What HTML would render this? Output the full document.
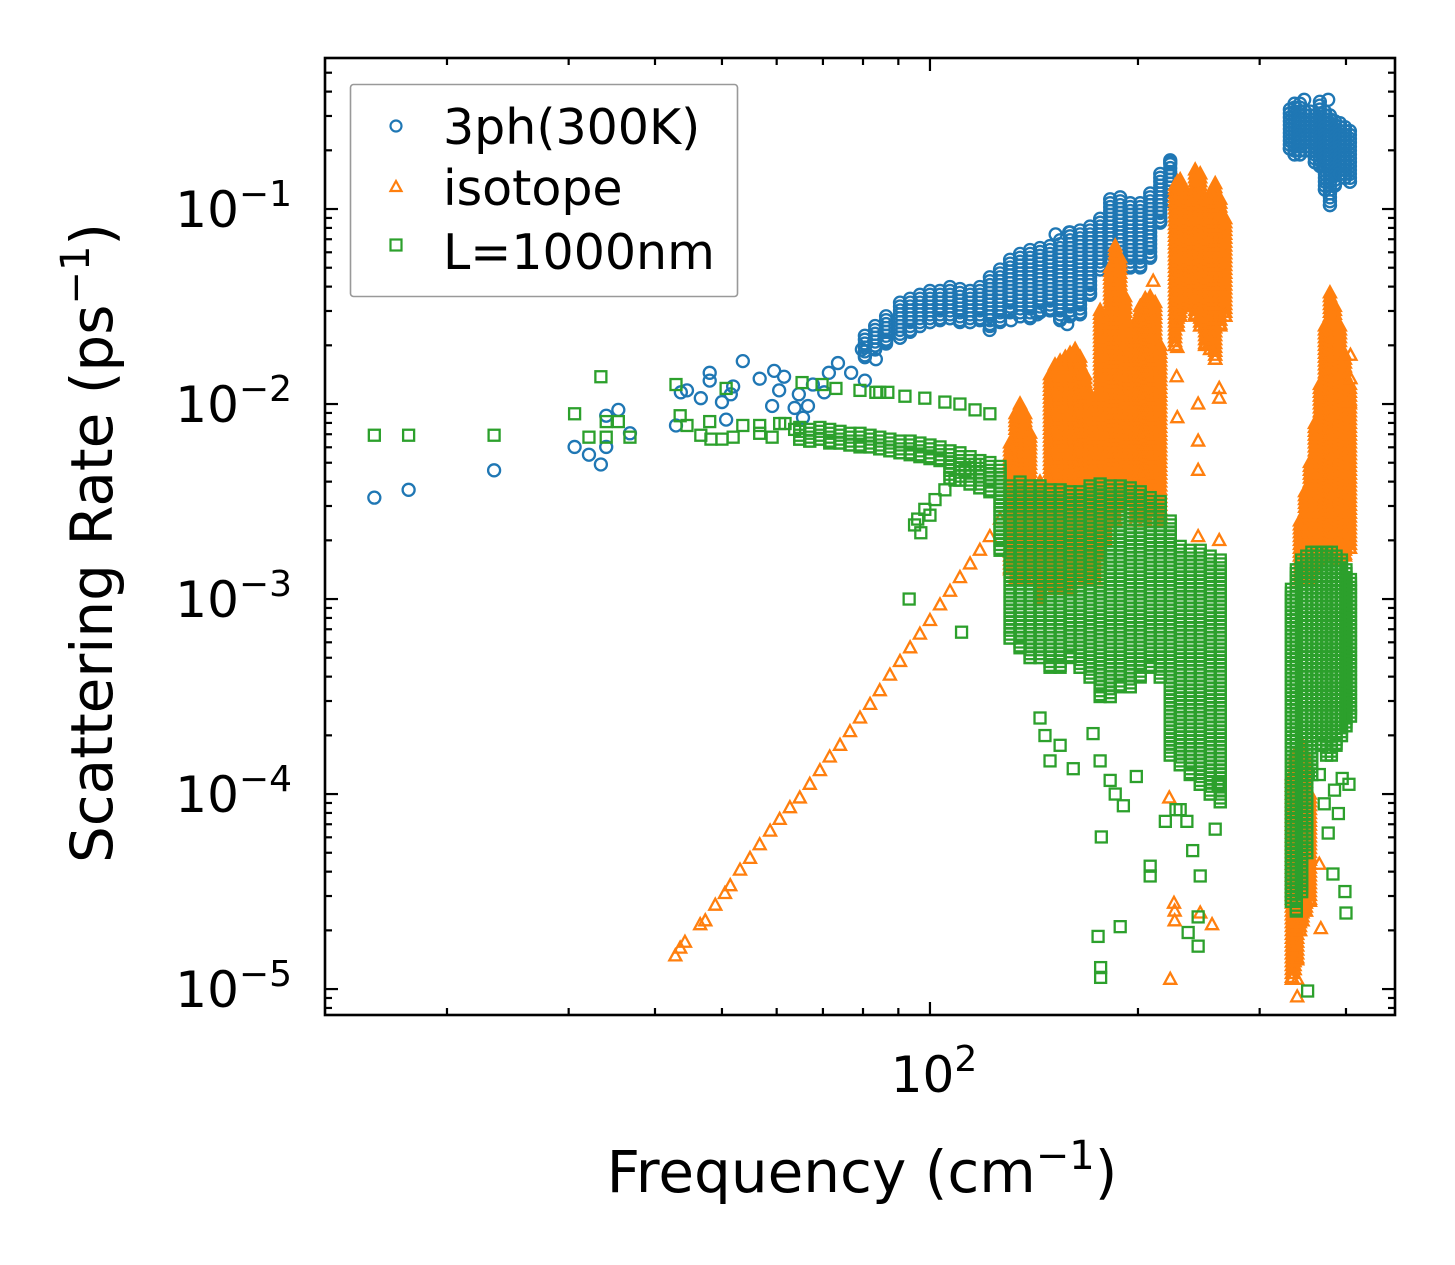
<!DOCTYPE html>
<html><head><meta charset="utf-8"><style>
html,body{margin:0;padding:0;background:#fff;}
svg{display:block;font-family:"DejaVu Sans","Liberation Sans",sans-serif;}
</style></head><body>
<svg id="chart" width="1455" height="1265" viewBox="0 0 1455 1265" xmlns="http://www.w3.org/2000/svg">
<rect x="0" y="0" width="1455" height="1265" fill="#fff"/>
<g id="marks"></g>
<g id="axes"></g>
<rect x="325" y="58" width="1070" height="957" fill="none" stroke="#000" stroke-width="2.6"/>
<g>
<rect x="350.5" y="84.5" width="387" height="212" rx="3" fill="#fff" fill-opacity="0.85" stroke="#999" stroke-width="1.6"/>
<g>
<circle cx="396" cy="126" r="5.5" fill="none" stroke="#1f77b4" stroke-width="2.2"/>
<text x="443" y="144" font-size="49">3ph(300K)</text></g>
<g>
<polygon points="396,181 401.5,191 390.5,191" fill="none" stroke="#ff7f0e" stroke-width="2.2"/>
<text x="443" y="205" font-size="49">isotope</text></g>
<g>
<rect x="390.5" y="239.5" width="11" height="11" fill="none" stroke="#2ca02c" stroke-width="2.2"/>
<text x="443" y="269" font-size="49">L=1000nm</text></g>
</g>
<text x="862" y="1192" font-size="58" text-anchor="middle">Frequency (cm<tspan font-size="40" dy="-23">−1</tspan><tspan dy="23">)</tspan></text>
<text transform="translate(112,543) rotate(-90)" font-size="58" text-anchor="middle">Scattering Rate (ps<tspan font-size="40" dy="-23">−1</tspan><tspan dy="23">)</tspan></text>
</svg>
<script>
// Axis domains (cm^-1, ps^-1 as log10)
const xDomainLog = [1.1245, 2.673];
const yDomainLog = [-5.133, -0.2256];
const xMajorTicks = [100];
const xMinorTicks = [20, 30, 40, 50, 60, 70, 80, 90, 200, 300, 400];
const yMajorExps = [-1, -2, -3, -4, -5];
const xTickLabels = ["10", "2"];

// 3ph(300K): explicit points [freq cm^-1, log10 rate]
const threePhPoints = [[15.7,-2.48],[17.6,-2.44],[23.4,-2.34],[30.6,-2.22],[32.1,-2.26],[33.4,-2.31],[34.0,-2.22],[34.0,-2.06],[35.4,-2.03],[36.8,-2.15],[42.9,-2.11],[43.6,-1.94],[44.5,-1.93],[46.6,-1.97],[48.0,-1.84],[48.0,-1.88],[50.0,-1.99],[50.7,-2.08],[51.5,-1.95],[51.9,-1.91],[53.6,-1.78],[56.7,-1.87],[59.5,-1.83],[61.5,-1.86],[60.5,-1.93],[59.1,-2.01],[63.7,-2.02],[65.5,-2.07],[66.6,-2.01],[64.6,-1.95],[67.7,-1.90],[70.3,-1.94],[71.4,-1.84],[73.6,-1.79],[76.9,-1.84],[79.7,-1.72],[80.5,-1.88],[83.5,-1.77],[86.4,-1.69],[152,-1.13],[159,-1.12],[122,-1.62],[131,-1.57],[143,-1.54],[158,-1.59],[222.7,-0.76],[348,-0.44],[377,-0.44]];
// 3ph dense bands: [freq, log10 rate high, log10 rate low]
const threePhBands = [[80.5,-1.65,-1.76],[83.3,-1.60,-1.72],[86.4,-1.55,-1.68],[90.5,-1.48,-1.66],[93.6,-1.46,-1.63],[96.7,-1.44,-1.60],[100,-1.42,-1.58],[103.4,-1.42,-1.57],[106.9,-1.40,-1.56],[110.5,-1.41,-1.58],[114.3,-1.42,-1.58],[118.1,-1.40,-1.57],[122.1,-1.35,-1.60],[126.3,-1.31,-1.58],[130.6,-1.26,-1.53],[135,-1.23,-1.55],[139.6,-1.21,-1.56],[144.3,-1.20,-1.53],[149.2,-1.19,-1.52],[154.3,-1.16,-1.57],[159.5,-1.12,-1.55],[164.9,-1.11,-1.54],[170.5,-1.09,-1.44],[176.3,-1.05,-1.31],[182.3,-0.95,-1.27],[188.5,-0.94,-1.31],[194.9,-0.97,-1.30],[201.5,-0.97,-1.30],[208.3,-0.92,-1.25],[215.4,-0.82,-1.07],[222.7,-0.75,-0.96],[230.2,-1.18,-1.30],[246.1,-1.20,-1.32],[263.1,-1.18,-1.28],
[331.8,-0.49,-0.69],[337,-0.46,-0.72],[343.1,-0.46,-0.72],[349,-0.50,-0.70],[354.7,-0.50,-0.70],[360.6,-0.52,-0.76],[366.7,-0.45,-0.78],[372.9,-0.50,-0.90],[379.2,-0.52,-0.98],[385.5,-0.55,-0.88],[392,-0.56,-0.82],[398.6,-0.58,-0.84],[405.3,-0.60,-0.86]];

// isotope
const isotopePoints = [[42.8,-4.83],[43.5,-4.79],[44.2,-4.76],[46.5,-4.67],[47.3,-4.65],[48.9,-4.57],[50.5,-4.51],[51.4,-4.47],[53.1,-4.39],[54.9,-4.33],[56.7,-4.26],[58.7,-4.19],[60.6,-4.13],[62.7,-4.07],[64.8,-4.02],[67.0,-3.95],[69.3,-3.88],[71.6,-3.81],[74.1,-3.75],[76.6,-3.68],[79.2,-3.61],[81.9,-3.54],[84.6,-3.47],[87.5,-3.39],[90.5,-3.32],[93.6,-3.25],[96.7,-3.18],[100,-3.11],[103.4,-3.03],[106.9,-2.96],[110.5,-2.89],[114.3,-2.82],[118.1,-2.75],[122.1,-2.68],[126.3,-2.59],[130.6,-2.52],[135,-2.44],
[210.4,-1.37],[228,-1.58],[228,-1.71],[227.5,-1.86],[228,-2.07],[244.4,-2.00],[244.4,-2.19],[244.4,-2.34],[262.2,-1.92],[262.2,-1.97],[244.4,-2.68],[262.2,-2.70],[222.7,-4.95],[225.5,-4.56],[246.1,-4.61],[256,-4.67],[222,-4.02],[226,-4.60],[226,-4.65],
[406,-1.75],[406,-1.87],[405,-1.99],[366,-4.36],[367.8,-4.69],[340,-4.95],[340,-5.04]];
const isotopeBands = [[130.6,-2.20,-2.85],[133,-2.05,-2.90],[135,-2.00,-2.90],[137.3,-2.05,-2.90],[139.6,-2.15,-2.90],[144.3,-2.40,-3.00],[149.2,-1.85,-2.95],[151.7,-1.80,-2.95],[154.3,-1.78,-2.95],[157,-1.76,-2.95],[159.5,-1.74,-2.95],[162.2,-1.72,-2.90],[164.9,-1.76,-2.90],[167.7,-1.85,-2.90],[170.5,-1.95,-2.90],[173.4,-2.10,-2.90],[176.3,-1.52,-2.80],[179.3,-1.60,-2.70],[182.3,-1.30,-2.60],[185.4,-1.19,-2.60],[188.5,-1.25,-2.55],[191.6,-1.45,-2.50],[194.9,-1.70,-2.50],[198.2,-1.58,-2.60],[201.5,-1.50,-2.60],[204.9,-1.46,-2.60],[208.3,-1.45,-2.55],[211.8,-1.48,-2.55],[215.4,-1.70,-2.60],[226.3,-0.88,-1.70],[228.2,-0.86,-1.60],[230.2,-0.85,-1.55],[234,-0.90,-1.50],[238,-0.95,-1.50],[242,-0.80,-1.55],[246.1,-0.82,-1.60],[250.2,-0.95,-1.70],[254.4,-0.92,-1.72],[258.7,-0.87,-1.77],[263.1,-0.95,-1.60],[267.5,-1.05,-1.55],
[343.1,-2.60,-2.90],[349,-2.45,-2.90],[354.7,-2.30,-2.90],[360.6,-2.10,-2.85],[366.7,-1.90,-2.80],[372.9,-1.60,-2.78],[379.2,-1.43,-2.76],[385.5,-1.50,-2.78],[392,-1.60,-2.80],[398.6,-1.75,-2.78],[405.3,-1.90,-2.74],
[334,-3.90,-4.95],[337,-3.80,-4.90],[340,-3.80,-4.85],[343.1,-3.80,-4.70],[346,-3.75,-4.65],[350,-3.80,-4.60],[354.7,-4.00,-4.55]];

// L=1000nm boundary
const boundaryPoints = [[15.7,-2.16],[17.6,-2.16],[23.4,-2.16],[30.6,-2.05],[33.4,-1.86],[32.1,-2.17],[34.0,-2.09],[35.4,-2.09],[34.0,-2.17],[36.8,-2.17],[42.9,-1.90],[43.5,-2.06],[44.5,-2.11],[46.6,-2.16],[48.0,-2.09],[48.2,-2.18],[50.0,-2.18],[51.9,-2.17],[50.7,-1.92],[53.6,-2.11],[56.7,-2.11],[56.7,-2.15],[59.1,-2.17],[60.6,-2.10],[61.7,-2.10],[63.7,-2.13],[65.3,-1.89],[69.8,-1.90],[73.1,-1.92],[83.5,-1.94],[86.9,-1.94],
[79.2,-1.93],[84.6,-1.94],[92,-1.96],[98.3,-1.97],[105.1,-1.99],[110.5,-2.00],[116.2,-2.03],[122.1,-2.05],
[93.3,-3.00],[111.1,-3.17],[97,-2.66],[95,-2.62],[98.3,-2.54],[101.7,-2.49],[105.1,-2.44],[108.7,-2.39],[112.4,-2.34],[116.2,-2.31],[96,-2.59],[100,-2.57],
[144.3,-3.61],[146.7,-3.70],[154.3,-3.75],[161.2,-3.87],[149.2,-3.83],[172.2,-3.69],[176.3,-3.83],[182.3,-3.93],[190.5,-4.06],[185.4,-4.00],[177,-4.22],[175.1,-4.73],[188.5,-4.68],[176.6,-4.89],[176.6,-4.94],[219.1,-4.14],[230.2,-4.08],[227,-4.08],[235.4,-4.14],[240,-4.29],[246.1,-4.42],[208.3,-4.37],[208.3,-4.42],[244.4,-4.63],[244.4,-4.78],[236.4,-4.71],[258.7,-4.18],[261.3,-3.95],[198.9,-3.91],
[398.6,-4.50],[400,-4.61],[383,-4.41],[352,-5.01],[372,-4.05],[385,-3.98],[390,-4.10],[377,-4.20],[395,-3.92],[404,-3.95],[366,-3.90]];
const boundaryBands = [[64.8,-2.12,-2.18],[67,-2.13,-2.19],[69.3,-2.12,-2.18],[71.6,-2.13,-2.20],[74.1,-2.14,-2.20],[76.6,-2.15,-2.21],[79.2,-2.15,-2.22],[81.9,-2.16,-2.22],[84.6,-2.17,-2.23],[87.5,-2.18,-2.24],[90.5,-2.19,-2.25],[93.6,-2.19,-2.26],[96.7,-2.20,-2.27],[100,-2.21,-2.28],[103.4,-2.22,-2.29],[106.9,-2.24,-2.38],[110.5,-2.25,-2.39],[114.3,-2.27,-2.41],[118.1,-2.29,-2.43],[122.1,-2.30,-2.45],[126.3,-2.32,-2.75],
[130.6,-2.42,-3.20],[135,-2.40,-3.25],[139.6,-2.42,-3.30],[144.3,-2.42,-3.30],[149.2,-2.44,-3.35],[154.3,-2.44,-3.35],[159.5,-2.45,-3.30],[164.9,-2.45,-3.35],[170.5,-2.42,-3.40],[176.3,-2.41,-3.50],[182.3,-2.42,-3.50],[188.5,-2.42,-3.45],[194.9,-2.43,-3.45],[201.5,-2.45,-3.40],[208.3,-2.48,-3.35],[215.4,-2.50,-3.40],[222.7,-2.60,-3.80],[230.2,-2.73,-3.85],[238,-2.75,-3.90],[246.1,-2.75,-3.95],[254.4,-2.78,-4.00],[263.1,-2.80,-4.04],
[333.5,-2.95,-4.55],[339,-2.85,-4.60],[345,-2.80,-4.50],[351,-2.78,-4.30],[357,-2.76,-3.90],[363,-2.76,-3.70],[369,-2.76,-3.75],[375,-2.76,-3.80],[381,-2.76,-3.80],[387,-2.78,-3.75],[394,-2.80,-3.70],[400,-2.85,-3.65],[406,-2.90,-3.60]];

const NS = "http://www.w3.org/2000/svg";
const PX0 = 325, PX1 = 1395, PY0 = 58, PY1 = 1015;
function xScale(f){ return PX0 + (Math.log10(f) - xDomainLog[0]) / (xDomainLog[1] - xDomainLog[0]) * (PX1 - PX0); }
function yScale(lr){ return PY1 - (lr - yDomainLog[0]) / (yDomainLog[1] - yDomainLog[0]) * (PY1 - PY0); }
const marks = document.getElementById('marks');
const axes = document.getElementById('axes');
const BAND_STEP = 0.02;

function marker(kind, f, lr, color, name){
  const x = xScale(f), y = yScale(lr);
  let el;
  if (kind === 'circle'){
    el = document.createElementNS(NS, 'circle');
    el.setAttribute('cx', x); el.setAttribute('cy', y); el.setAttribute('r', 6);
  } else if (kind === 'tri'){
    el = document.createElementNS(NS, 'polygon');
    el.setAttribute('points', x + ',' + (y-6.5) + ' ' + (x+6) + ',' + (y+4.5) + ' ' + (x-6) + ',' + (y+4.5));
  } else {
    el = document.createElementNS(NS, 'rect');
    el.setAttribute('x', x-5.5); el.setAttribute('y', y-5.5); el.setAttribute('width', 11); el.setAttribute('height', 11);
  }
  el.setAttribute('fill', 'none');
  el.setAttribute('stroke', color);
  el.setAttribute('stroke-width', 2.3);
  
  
  return el;
}
function drawSeries(points, bands, kind, color, name){
  const g = document.createElementNS(NS, 'g');
  
  
  bands.forEach(b => {
    for (let lr = b[1]; lr >= b[2] - 1e-9; lr -= BAND_STEP){
      g.appendChild(marker(kind, b[0], lr, color, name + '-point'));
    }
    g.appendChild(marker(kind, b[0], b[2], color, name + '-point'));
  });
  points.forEach(p => g.appendChild(marker(kind, p[0], p[1], color, name + '-point')));
  marks.appendChild(g);
}
drawSeries(threePhPoints, threePhBands, 'circle', '#1f77b4', 'three-phonon');
drawSeries(isotopePoints, isotopeBands, 'tri', '#ff7f0e', 'isotope');
drawSeries(boundaryPoints, boundaryBands, 'square', '#2ca02c', 'boundary');

function line(x1,y1,x2,y2,name){
  const l = document.createElementNS(NS,'line');
  l.setAttribute('x1',x1); l.setAttribute('y1',y1); l.setAttribute('x2',x2); l.setAttribute('y2',y2);
  l.setAttribute('stroke','#000'); l.setAttribute('stroke-width',2.2);
  
  
  axes.appendChild(l);
}
xMajorTicks.forEach(f => {
  const x = xScale(f);
  line(x, PY1, x, PY1-13, 'x-major-tick');
  line(x, PY0, x, PY0+13, 'x-major-tick-top');
  const t = document.createElementNS(NS,'text');
  t.setAttribute('x', x+4); t.setAttribute('y', 1092); t.setAttribute('font-size', 50); t.setAttribute('text-anchor','middle');
  
  
  t.innerHTML = xTickLabels[0] + '<tspan font-size="36" dy="-21">' + xTickLabels[1] + '</tspan>';
  axes.appendChild(t);
});
xMinorTicks.forEach(f => {
  const x = xScale(f);
  line(x, PY1, x, PY1-7, 'x-minor-tick');
  line(x, PY0, x, PY0+7, 'x-minor-tick-top');
});
yMajorExps.forEach(e => {
  const y = yScale(e);
  line(PX0, y, PX0+13, y, 'y-major-tick');
  line(PX1, y, PX1-13, y, 'y-major-tick-right');
  const t = document.createElementNS(NS,'text');
  t.setAttribute('x', 292); t.setAttribute('y', y+18); t.setAttribute('font-size', 50); t.setAttribute('text-anchor','end');
  
  
  t.innerHTML = '10<tspan font-size="36" dy="-21">−' + (-e) + '</tspan>';
  axes.appendChild(t);
  for (let m = 2; m <= 9; m++){
    const lr = e + Math.log10(m);
    if (lr > yDomainLog[1]) continue;
    const ym = yScale(lr);
    line(PX0, ym, PX0+7, ym, 'y-minor-tick');
    line(PX1, ym, PX1-7, ym, 'y-minor-tick-right');
  }
});
for (let m = 8; m <= 9; m++){
  const ym = yScale(-6 + Math.log10(m));
  if (ym < PY1) { line(PX0, ym, PX0+7, ym, 'y-minor-tick'); line(PX1, ym, PX1-7, ym, 'y-minor-tick-right'); }
}
</script>
</body></html>
